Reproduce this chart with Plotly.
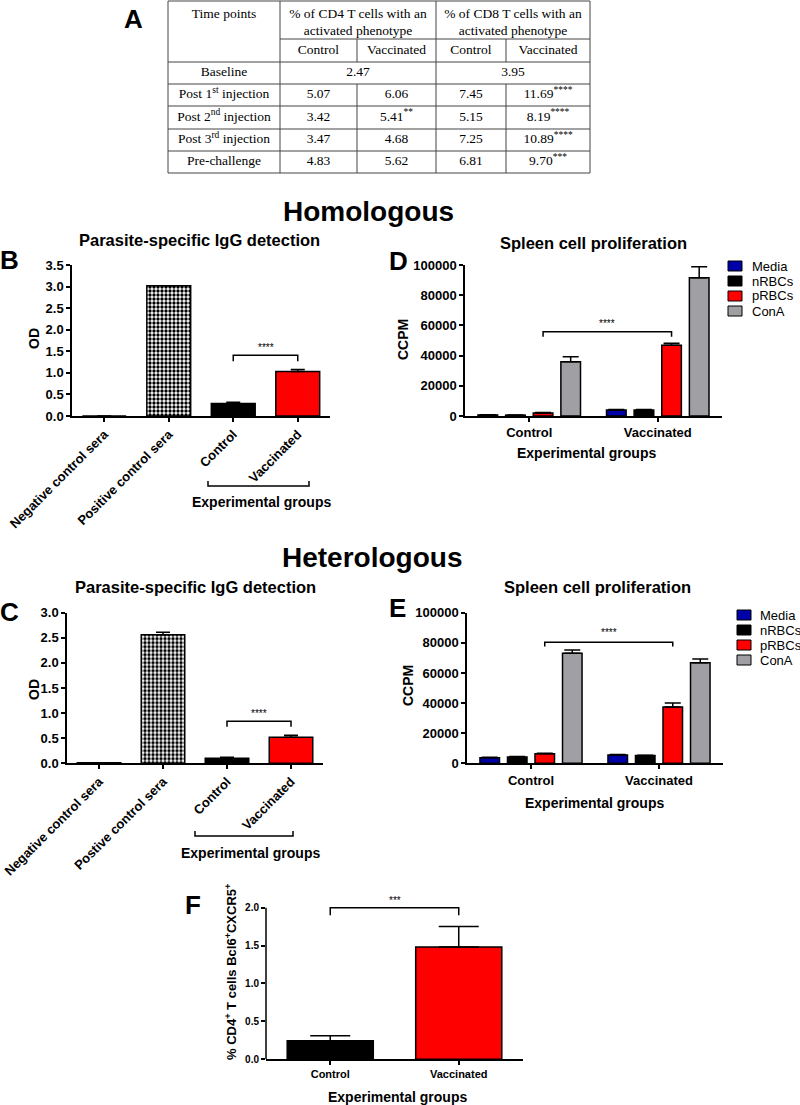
import plotly.graph_objects as go

W, H = 800, 1105


def px(x):
    return x / W


def py(y):
    return 1 - y / H


# ---------------- data ----------------
# Table A
table_header_timepoints = "Time points"
table_header_cd4 = "% of CD4 T cells with an<br>activated phenotype"
table_header_cd8 = "% of CD8 T cells with an<br>activated phenotype"
table_subheaders = ["Control", "Vaccinated", "Control", "Vaccinated"]
table_timepoints = ["Baseline", "Post 1<sup>st</sup> injection", "Post 2<sup>nd</sup> injection",
                    "Post 3<sup>rd</sup> injection", "Pre-challenge"]
baseline_cd4 = "2.47"
baseline_cd8 = "3.95"
cd4_control = ["5.07", "3.42", "3.47", "4.83"]
cd4_vaccinated = ["6.06", "5.41<sup>**</sup>", "4.68", "5.62"]
cd8_control = ["7.45", "5.15", "7.25", "6.81"]
cd8_vaccinated = ["11.69<sup>****</sup>", "8.19<sup>****</sup>", "10.89<sup>****</sup>", "9.70<sup>***</sup>"]

# Panels B / C  (parasite-specific IgG, OD)
igg_categories_hom = ["Negative control sera", "Positive control sera", "Control", "Vaccinated"]
igg_hom = [0.0, 3.02, 0.29, 1.03]
igg_hom_err = [0.0, 0.0, 0.03, 0.05]
igg_categories_het = ["Negative control sera", "Postive control sera", "Control", "Vaccinated"]
igg_het = [0.01, 2.56, 0.10, 0.52]
igg_het_err = [0.0, 0.05, 0.02, 0.04]

# Panels D / E  (spleen cell proliferation, CCPM)
groups = ["Control", "Vaccinated"]
stimuli = ["Media", "nRBCs", "pRBCs", "ConA"]
hom_media = [700, 4000]
hom_media_err = [100, 300]
hom_nrbcs = [600, 4000]
hom_nrbcs_err = [100, 300]
hom_prbcs = [2000, 46800]
hom_prbcs_err = [300, 1300]
hom_cona = [36000, 91600]
hom_cona_err = [3300, 7300]
het_media = [3700, 5500]
het_media_err = [300, 300]
het_nrbcs = [4200, 5100]
het_nrbcs_err = [300, 300]
het_prbcs = [6400, 37400]
het_prbcs_err = [300, 2600]
het_cona = [73000, 66800]
het_cona_err = [2300, 2500]

# Panel F
tfh_groups = ["Control", "Vaccinated"]
tfh_values = [0.245, 1.48]
tfh_err = [0.065, 0.27]

# ---------------- styles ----------------
SANS = "Liberation Sans, Arial, sans-serif"
SERIF = "Liberation Serif, Times New Roman, serif"
stim_colors = ["#0000a8", "#000000", "#ff0000", "#a0a0a4"]
# patterned bar: in 'replace' mode the marker colour becomes the pattern colour
igg_colors = ["white", "black", "black", "#ff0000"]
igg_patterns = ["", ".", "", ""]
BARGAP = 0.14
BARGROUPGAP = 0.29

fig = go.Figure()


def err(arr, cap):
    return dict(type="data", array=arr, arrayminus=[0] * len(arr), symmetric=False,
                color="black", thickness=1.5, width=cap)


PATTERN = dict(shape=igg_patterns, fillmode="replace", size=4, solidity=0.55)

# B
fig.add_trace(go.Bar(x=list(range(len(igg_hom))), y=igg_hom, width=0.68,
                     marker=dict(color=igg_colors, line=dict(color="black", width=1.5), pattern=PATTERN),
                     error_y=err(igg_hom_err, 7), xaxis="x", yaxis="y", showlegend=False))
# C
fig.add_trace(go.Bar(x=list(range(len(igg_het))), y=igg_het, width=0.68,
                     marker=dict(color=igg_colors, line=dict(color="black", width=1.5), pattern=PATTERN),
                     error_y=err(igg_het_err, 7), xaxis="x3", yaxis="y3", showlegend=False))

# D
hom_series = [(hom_media, hom_media_err), (hom_nrbcs, hom_nrbcs_err),
              (hom_prbcs, hom_prbcs_err), (hom_cona, hom_cona_err)]
for name, (vals, e), col in zip(stimuli, hom_series, stim_colors):
    fig.add_trace(go.Bar(x=list(range(len(groups))), y=vals, name=name,
                         marker=dict(color=col, line=dict(color="black", width=1.5)),
                         error_y=err(e, 8), xaxis="x2", yaxis="y2", showlegend=False))
# E
het_series = [(het_media, het_media_err), (het_nrbcs, het_nrbcs_err),
              (het_prbcs, het_prbcs_err), (het_cona, het_cona_err)]
for name, (vals, e), col in zip(stimuli, het_series, stim_colors):
    fig.add_trace(go.Bar(x=list(range(len(groups))), y=vals, name=name,
                         marker=dict(color=col, line=dict(color="black", width=1.5)),
                         error_y=err(e, 8), xaxis="x4", yaxis="y4", showlegend=False))

# F
fig.add_trace(go.Bar(x=list(range(len(tfh_groups))), y=tfh_values, width=0.67,
                     marker=dict(color=["black", "#ff0000"], line=dict(color="black", width=1.5)),
                     error_y=err(tfh_err, 20), xaxis="x5", yaxis="y5", showlegend=False))

# Table A as text trace on its own axes (pixel-unit ranges)
col_edges = [168, 280, 357, 436, 506, 590]
col_c = [(col_edges[i] + col_edges[i + 1]) / 2 for i in range(5)]
row_lines = [1, 39, 62, 84, 106, 129, 151, 173]
row_c = [(row_lines[i] + row_lines[i + 1]) / 2 for i in range(2, 7)]
tx, ty, tt = [], [], []
tx += [col_c[0], (col_edges[1] + col_edges[3]) / 2, (col_edges[3] + col_edges[5]) / 2]
ty += [15, 23, 23]
tt += [table_header_timepoints, table_header_cd4, table_header_cd8]
for i, s in enumerate(table_subheaders):
    tx.append(col_c[i + 1]); ty.append(50.5); tt.append(s)
tx += [col_c[0], (col_edges[1] + col_edges[3]) / 2, (col_edges[3] + col_edges[5]) / 2]
ty += [row_c[0]] * 3
tt += [table_timepoints[0], baseline_cd4, baseline_cd8]
for r in range(4):
    yy = row_c[r + 1]
    for ci, t in enumerate([table_timepoints[r + 1], cd4_control[r], cd4_vaccinated[r],
                            cd8_control[r], cd8_vaccinated[r]]):
        tx.append(col_c[ci]); ty.append(yy); tt.append(t)
fig.add_trace(go.Scatter(x=tx, y=ty, text=tt, mode="text", textposition="middle center",
                         textfont=dict(family=SERIF, size=13.5, color="black"),
                         xaxis="x6", yaxis="y6", showlegend=False, hoverinfo="skip"))

shapes = []
annotations = []
TL = dict(color="#444444", width=1)
for yv in [1, 62, 84, 106, 129, 151, 173]:
    shapes.append(dict(type="line", xref="x6", yref="y6", x0=col_edges[0], x1=col_edges[5], y0=yv, y1=yv, line=TL))
shapes.append(dict(type="line", xref="x6", yref="y6", x0=col_edges[1], x1=col_edges[5], y0=39, y1=39, line=TL))
for xv in [col_edges[0], col_edges[1], col_edges[3], col_edges[5]]:
    shapes.append(dict(type="line", xref="x6", yref="y6", x0=xv, x1=xv, y0=1, y1=173, line=TL))
for xv in [col_edges[2], col_edges[4]]:
    shapes.append(dict(type="line", xref="x6", yref="y6", x0=xv, x1=xv, y0=39, y1=62, line=TL))
    shapes.append(dict(type="line", xref="x6", yref="y6", x0=xv, x1=xv, y0=84, y1=173, line=TL))

BL = dict(color="black", width=1.5)


def sig_bracket(xr, yr, x0, x1, ytop, ybot, label, ylab, size=10):
    shapes.append(dict(type="path", xref=xr, yref=yr,
                       path=f"M {x0},{ybot} L {x0},{ytop} L {x1},{ytop} L {x1},{ybot}", line=BL))
    annotations.append(dict(xref=xr, yref=yr, x=(x0 + x1) / 2, y=ylab, text=label, showarrow=False,
                            font=dict(family=SANS, size=size, color="black"), yanchor="middle"))


sig_bracket("x", "y", 2, 3, 1.41, 1.27, "****", 1.58)
sig_bracket("x3", "y3", 2, 3, 0.84, 0.73, "****", 1.0)
poff = (1 - BARGAP) * 0.125  # centre offset of the 3rd of 4 grouped bars
sig_bracket("x2", "y2", 0 + poff, 1 + poff, 55800, 52500, "****", 61000)
sig_bracket("x4", "y4", 0 + poff, 1 + poff, 80300, 77500, "****", 87000)
sig_bracket("x5", "y5", 0, 1, 2.0, 1.9, "***", 2.1)

# F y axis line up to the top tick only
shapes.append(dict(type="line", xref="x5 domain", yref="y5", x0=0, x1=0, y0=0, y1=2.0, line=BL))

# group brackets under rotated labels (B and C)
for (xa, xb, yb) in [(208, 309, 486), (195, 293, 836)]:
    shapes.append(dict(type="path", xref="paper", yref="paper",
                       path=f"M {px(xa)},{py(yb-5)} L {px(xa)},{py(yb)} L {px(xb)},{py(yb)} L {px(xb)},{py(yb-5)}",
                       line=BL))

# manual legends (D and E)
for (bx, tx0, y0) in [(728, 750, 266), (737, 758, 615)]:
    for i, (name, col) in enumerate(zip(stimuli, stim_colors)):
        yc = y0 + 15 * i
        shapes.append(dict(type="rect", xref="paper", yref="paper", x0=px(bx), x1=px(bx + 14),
                           y0=py(yc + 5), y1=py(yc - 5), fillcolor=col, line=dict(color="black", width=1)))
        annotations.append(dict(xref="paper", yref="paper", x=px(tx0), y=py(yc), text=name,
                                showarrow=False, xanchor="left", yanchor="middle",
                                font=dict(family=SANS, size=13, color="black")))


def txt(x, y, s, size, angle=0):
    a = dict(xref="paper", yref="paper", x=px(x), y=py(y), text="<b>" + s + "</b>", showarrow=False,
             xanchor="center", yanchor="middle",
             font=dict(family=SANS, size=size, color="black"))
    if angle:
        a["textangle"] = angle
    annotations.append(a)


txt(133, 19, "A", 26)
txt(9, 260, "B", 26)
txt(398, 261, "D", 26)
txt(9, 612, "C", 26)
txt(397, 608, "E", 26)
txt(193, 905, "F", 26)
txt(368, 211, "Homologous", 28)
txt(372, 557, "Heterologous", 28)
txt(199, 240, "Parasite-specific IgG detection", 16.5)
txt(593, 243, "Spleen cell proliferation", 16.5)
txt(195, 587, "Parasite-specific IgG detection", 16.5)
txt(597, 587, "Spleen cell proliferation", 16.5)
txt(34, 339, "OD", 14, angle=-90)
txt(34, 690, "OD", 14, angle=-90)
txt(403, 340, "CCPM", 14, angle=-90)
txt(408, 686, "CCPM", 14, angle=-90)
txt(231, 972, "% CD4<sup>+</sup> T cells Bcl6<sup>+</sup>CXCR5<sup>+</sup>", 13, angle=-90)
txt(261, 502, "Experimental groups", 14)
txt(586, 453, "Experimental groups", 14)
txt(250, 853, "Experimental groups", 14)
txt(594, 803, "Experimental groups", 14)
txt(397, 1097, "Experimental groups", 14)

TICKFONT = dict(family=SANS, size=13, color="black", weight="bold")


def yax(dom, rng, dtick, fmt, showline=True, font=TICKFONT, anchor="x"):
    return dict(domain=[py(dom[1]), py(dom[0])], range=rng, dtick=dtick, tick0=0, tickformat=fmt,
                showline=showline, linecolor="black", linewidth=1.5, ticks="outside", ticklen=4,
                tickwidth=1.5, tickcolor="black", showgrid=False, zeroline=False, tickfont=font,
                anchor=anchor, fixedrange=True, automargin=False)


def xax(dom, n, labels, angle=0, font=TICKFONT, anchor="y"):
    return dict(domain=[px(dom[0]), px(dom[1])], range=[-0.5, n - 0.5], tickmode="array",
                tickvals=list(range(n)), ticktext=labels, tickangle=angle,
                showline=True, linecolor="black", linewidth=1.5, ticks="outside", ticklen=4,
                tickwidth=1.5, tickcolor="black", showgrid=False, zeroline=False, tickfont=font,
                anchor=anchor, fixedrange=True, automargin=False)


fig.update_layout(
    template="none",
    width=W, height=H, margin=dict(l=0, r=0, t=0, b=0, pad=0, autoexpand=False),
    paper_bgcolor="white", plot_bgcolor="white",
    barmode="group", bargap=BARGAP, bargroupgap=BARGROUPGAP,
    xaxis=xax((72, 330), 4, igg_categories_hom, angle=-45, anchor="y"),
    yaxis=yax((265, 416), [0, 3.5], 0.5, ".1f", anchor="x"),
    xaxis2=xax((465, 722), 2, groups, anchor="y2"),
    yaxis2=yax((265, 416), [0, 100000], 20000, "d", anchor="x2"),
    xaxis3=xax((67, 323), 4, igg_categories_het, angle=-45, anchor="y3"),
    yaxis3=yax((612.7, 763.3), [0, 3.0], 0.5, ".1f", anchor="x3"),
    xaxis4=xax((467, 723), 2, groups, anchor="y4"),
    yaxis4=yax((612.7, 763.3), [0, 100000], 20000, "d", anchor="x4"),
    xaxis5=xax((266, 523), 2, tfh_groups, font=dict(family=SANS, size=11, color="black", weight="bold"),
               anchor="y5"),
    yaxis5=yax((892.5, 1059.3), [0, 2.2], 0.5, ".1f", showline=False,
               font=dict(family=SANS, size=10, color="black", weight="bold"), anchor="x5"),
    xaxis6=dict(domain=[px(160), px(600)], range=[160, 600], visible=False, anchor="y6",
                fixedrange=True, automargin=False),
    yaxis6=dict(domain=[py(180), py(0)], range=[180, 0], visible=False, anchor="x6",
                fixedrange=True, automargin=False),
    shapes=shapes, annotations=annotations,
)
fig.update_layout(yaxis5=dict(tickmode="array", tickvals=[0, 0.5, 1.0, 1.5, 2.0]))

fig.write_html("out.html", config={"displayModeBar": False},
               post_script="document.body.style.margin='0px';")
